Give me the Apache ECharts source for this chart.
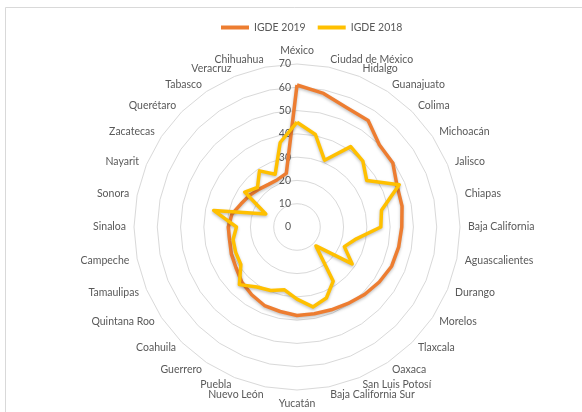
<!DOCTYPE html>
<html>
<head>
<meta charset="utf-8">
<script src="https://cdn.jsdelivr.net/npm/echarts@6/dist/echarts.min.js"></script>
<style>
  html, body { margin: 0; padding: 0; background: #ffffff; }
  #chart { width: 582px; height: 412px; }
</style>
</head>
<body>
<div id="chart"></div>
<script>
// States listed clockwise starting at the top of the radar
const estados = ['México', 'Ciudad de México', 'Hidalgo', 'Guanajuato', 'Colima', 'Michoacán',
  'Jalisco', 'Chiapas', 'Baja California', 'Aguascalientes', 'Durango', 'Morelos', 'Tlaxcala',
  'Oaxaca', 'San Luis Potosí', 'Baja California Sur', 'Yucatán', 'Nuevo León', 'Puebla',
  'Guerrero', 'Coahuila', 'Quintana Roo', 'Tamaulipas', 'Campeche', 'Sinaloa', 'Sonora',
  'Nayarit', 'Zacatecas', 'Querétaro', 'Tabasco', 'Veracruz', 'Chihuahua'];

const igde2019 = [61, 58.5, 55.5, 55, 50, 49.5, 46.5, 46, 45, 44.5, 44, 42.5, 41,
  39.5, 38.5, 38, 38, 37, 36.5, 35, 33.5, 31.5, 30.5, 29.5, 29.5, 28.5,
  26, 24.5, 23, 22, 22, 23.5];

const igde2018 = [45, 40.5, 31, 41.5, 40, 36, 47.5, 37, 36, 26, 22, 28.5, 11.5,
  28, 33, 35, 31, 27.5, 29.5, 31, 35, 29, 28.5, 28, 26, 36.5,
  14.5, 27, 24, 29, 24.5, 37];

const escalaMax = 70;
const escalaPaso = 10;

const seriesNames = ['IGDE 2019', 'IGDE 2018'];
const seriesColors = ['#ED7D31', '#FFC000'];

// ECharts lays radar indicators out counter-clockwise, so feed them in reverse
// (keeping the first one at the top) to get a clockwise reading order.
const order = [0].concat(estados.map((_, i) => i).slice(1).reverse());
const pick = arr => order.map(i => arr[i]);

const indicators = order.map((i, k) => {
  const ind = { name: estados[i], min: 0, max: escalaMax };
  if (k === 0) {
    ind.axisLabel = { show: true };
  }
  return ind;
});

const textColor = '#595959';
const fontFamily = 'Lato, "Open Sans", sans-serif';

const chart = echarts.init(document.getElementById('chart'), null, { renderer: 'canvas' });

chart.setOption({
  animation: false,
  backgroundColor: '#ffffff',
  graphic: [{
    type: 'rect',
    shape: { x: 5.5, y: 7.5, width: 640, height: 440 },
    style: { fill: 'none', stroke: '#d9d9d9', lineWidth: 1 },
    silent: true
  }],
  legend: {
    data: seriesNames,
    left: 216,
    top: 17,
    icon: 'rect',
    itemWidth: 28,
    itemHeight: 4,
    itemGap: 12,
    textStyle: { color: textColor, fontSize: 10.5, fontFamily: fontFamily }
  },
  radar: {
    center: [297, 227],
    radius: 163,
    startAngle: 90,
    splitNumber: escalaMax / escalaPaso,
    shape: 'polygon',
    nameGap: 8,
    axisName: { color: textColor, fontSize: 10.5, fontFamily: fontFamily },
    axisLine: { show: false },
    axisTick: { show: false },
    axisLabel: { show: false, color: textColor, fontSize: 10.5, fontFamily: fontFamily, margin: 6 },
    splitLine: { lineStyle: { color: '#d9d9d9', width: 1 } },
    splitArea: { show: false },
    indicator: indicators
  },
  series: [{
    type: 'radar',
    symbol: 'none',
    data: [
      {
        name: seriesNames[0],
        value: pick(igde2019),
        lineStyle: { color: seriesColors[0], width: 3.5, shadowColor: 'rgba(0,0,0,0.25)', shadowBlur: 3, shadowOffsetY: 1.5 },
        itemStyle: { color: seriesColors[0] }
      },
      {
        name: seriesNames[1],
        value: pick(igde2018),
        lineStyle: { color: seriesColors[1], width: 3.5, shadowColor: 'rgba(0,0,0,0.25)', shadowBlur: 3, shadowOffsetY: 1.5 },
        itemStyle: { color: seriesColors[1] }
      }
    ]
  }]
});
</script>
</body>
</html>
